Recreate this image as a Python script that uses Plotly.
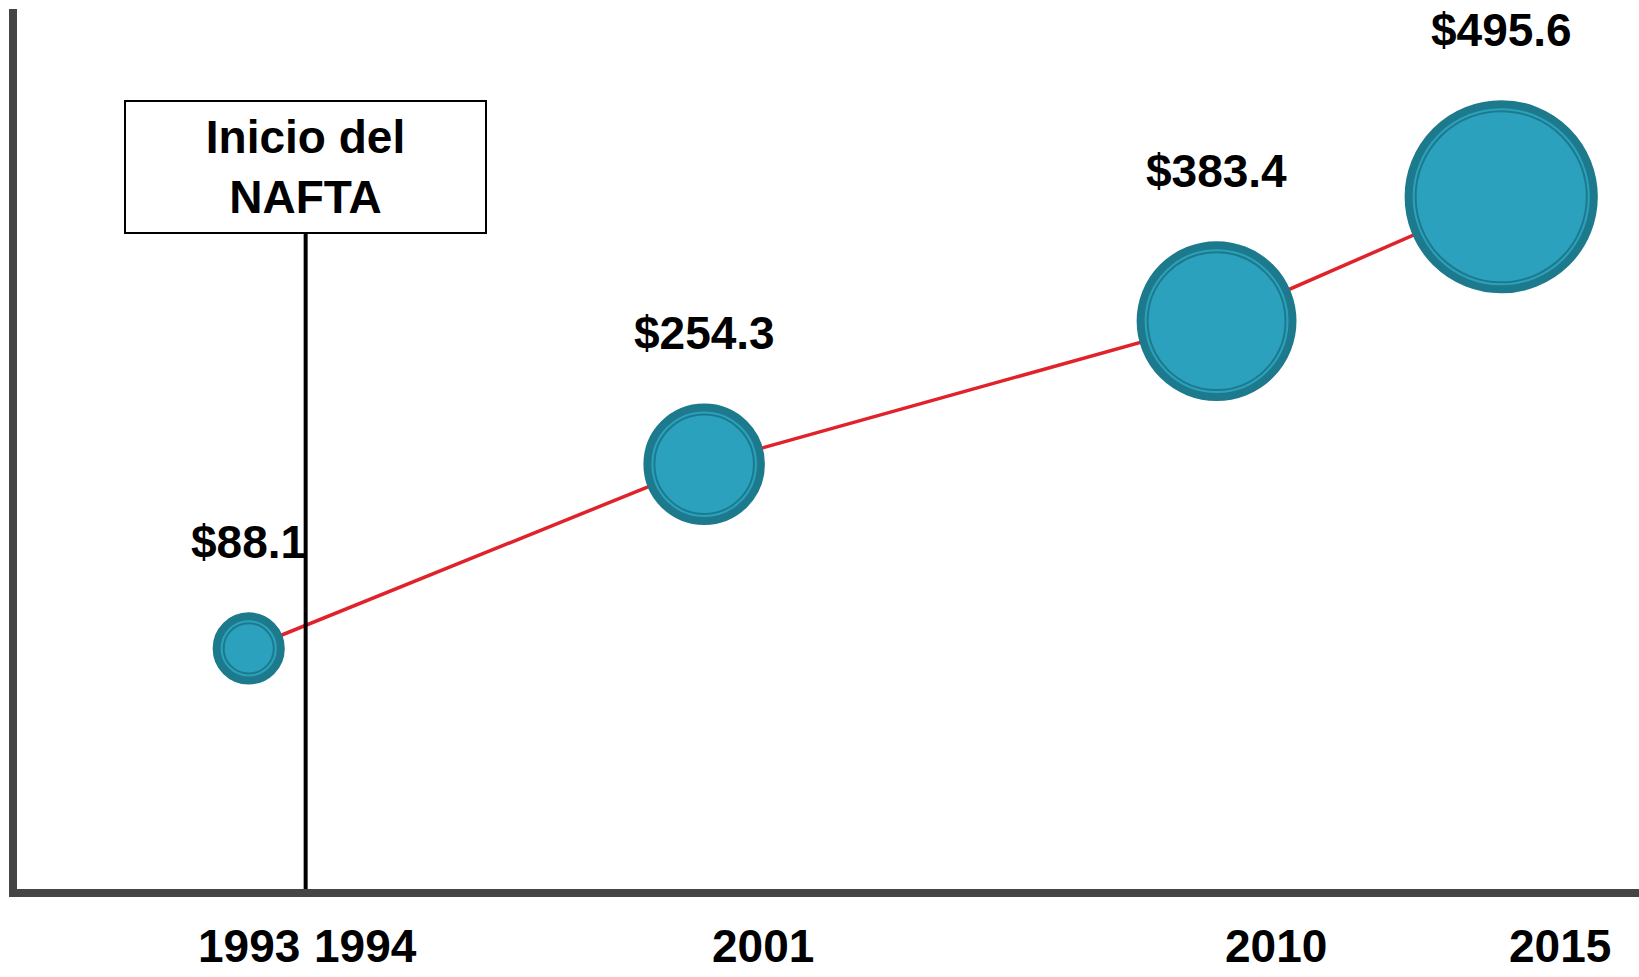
import numpy as np
import plotly.graph_objects as go

# ---- data ----
years = [1993, 2001, 2010, 2015]
values = [88.1, 254.3, 383.4, 495.6]
value_labels = ["$88.1", "$254.3", "$383.4", "$495.6"]
tick_years = [1993, 1994, 2001, 2010, 2015]
tick_labels = ["1993", "1994", "2001", "2010", "2015"]
nafta_year = 1994
nafta_text = "Inicio del<br>NAFTA"

# ---- styles ----
FILL = "#2BA1BE"
RING = "#1D7A8C"
RED = "#E0232B"
AXIS = "#454545"
FONT = "Liberation Sans, Arial, sans-serif"
FS = 46
RING_W = 8

vals = np.array(values)
outer = 38 + 0.297 * vals          # bubble diameter scale
inner = outer - 14

fig = go.Figure()
fig.add_trace(go.Scatter(x=years, y=values, mode="lines",
                         line=dict(color=RED, width=3.5), hoverinfo="skip"))
fig.add_trace(go.Scatter(x=years, y=values, mode="markers",
                         marker=dict(size=outer, color=FILL, opacity=1,
                                     line=dict(color=RING, width=RING_W)),
                         hoverinfo="skip"))
fig.add_trace(go.Scatter(x=years, y=values, mode="markers",
                         marker=dict(size=inner, color=FILL, opacity=1,
                                     line=dict(color=RING, width=2)),
                         hoverinfo="skip"))

annotations = []
for yr, v, lab, d in zip(years, values, value_labels, outer):
    r = (d + RING_W) / 2
    annotations.append(dict(x=yr, y=v, xref="x", yref="y", text=f"<b>{lab}</b>",
                            showarrow=False, yanchor="middle", xanchor="center",
                            yshift=r + 70, font=dict(family=FONT, size=FS, color="black")))

for i, (yr, lab) in enumerate(zip(tick_years, tick_labels)):
    annotations.append(dict(x=yr, y=0, xref="x", yref="paper", text=f"<b>{lab}</b>",
                            showarrow=False, yanchor="middle",
                            xanchor="center" if i == 0 else "left",
                            xshift=0 if i == 0 else 6,
                            yshift=-57, font=dict(family=FONT, size=FS, color="black")))

annotations.append(dict(x=nafta_year, y=0.8205, xref="x", yref="paper",
                        text=f"<b>{nafta_text}</b>", showarrow=False,
                        xanchor="center", yanchor="middle",
                        width=359, height=130, borderpad=0,
                        bordercolor="black", borderwidth=2, bgcolor="white",
                        font=dict(family=FONT, size=FS, color="black")))

fig.add_shape(type="line", xref="x", yref="paper", x0=nafta_year, x1=nafta_year,
              y0=0, y1=0.8, line=dict(color="black", width=4), layer="above")

fig.update_layout(
    width=1639, height=977,
    margin=dict(l=17, r=0, t=9, b=88),
    paper_bgcolor="white", plot_bgcolor="white",
    showlegend=False,
    annotations=annotations,
    xaxis=dict(range=[1988.93, 2017.42], showgrid=False, zeroline=False,
               showticklabels=False, ticks="", showline=True,
               linecolor=AXIS, linewidth=8),
    yaxis=dict(range=[-129, 665], showgrid=False, zeroline=False,
               showticklabels=False, ticks="", showline=True,
               linecolor=AXIS, linewidth=8),
)

fig.write_html("out.html")
